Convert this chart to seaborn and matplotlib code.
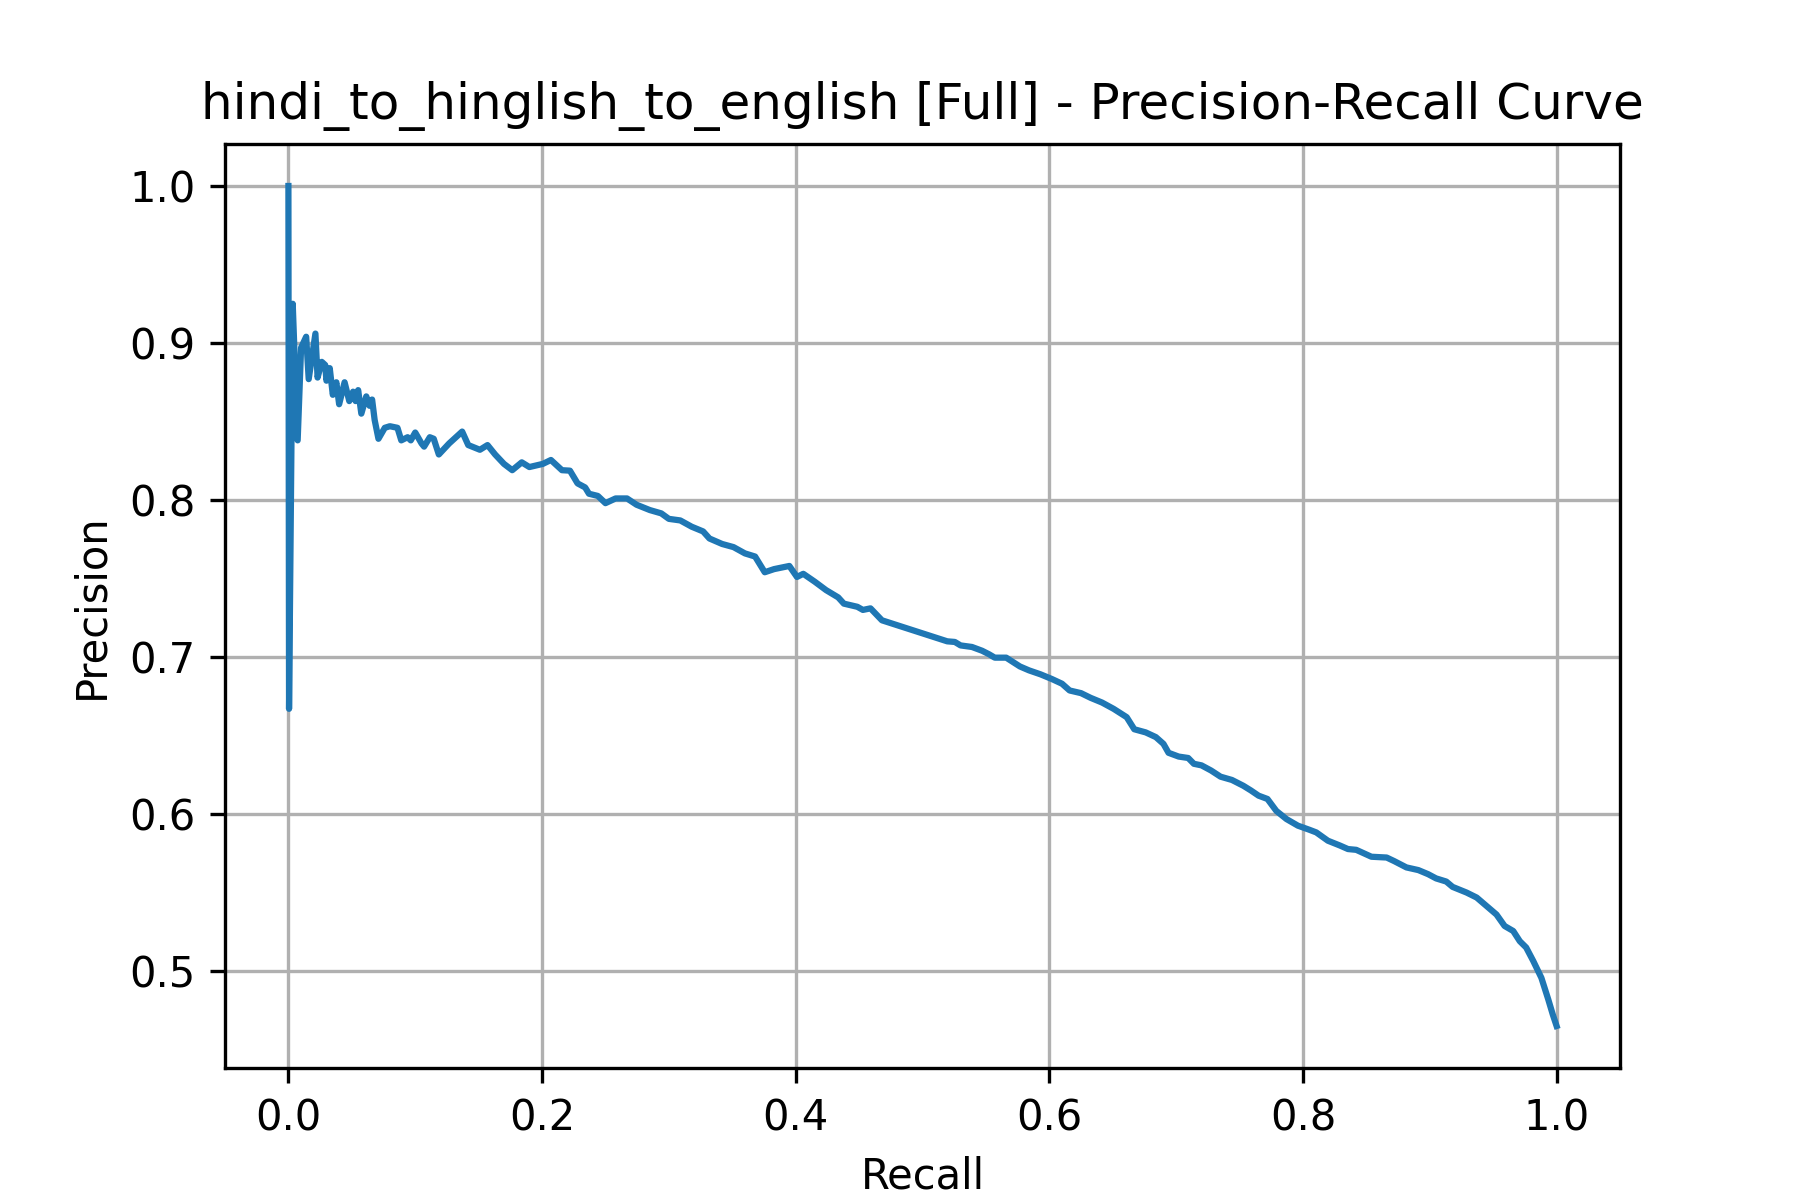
import matplotlib
matplotlib.use("Agg")
import matplotlib.pyplot as plt
import seaborn as sb
import pandas as pd

# values
recall = [
    0.0, 0.0005, 0.0034, 0.0073, 0.010, 0.014, 0.016, 0.0213, 0.023, 0.0263,
    0.029, 0.030, 0.0326, 0.035, 0.0378, 0.040, 0.0443, 0.048, 0.051, 0.053,
    0.055, 0.0575, 0.0614, 0.064, 0.066, 0.068, 0.071, 0.076, 0.080, 0.086,
    0.089, 0.094, 0.0965, 0.100, 0.105, 0.107, 0.1115, 0.1146, 0.1186, 0.1267,
    0.137, 0.1418, 0.151, 0.157, 0.163, 0.170, 0.1765, 0.184, 0.190, 0.2006,
    0.207, 0.2157, 0.222, 0.228, 0.234, 0.237, 0.244, 0.250, 0.258, 0.267,
    0.2745, 0.285, 0.294, 0.300, 0.309, 0.318, 0.327, 0.332, 0.342, 0.351,
    0.360, 0.368, 0.3756, 0.383, 0.395, 0.401, 0.406, 0.415, 0.424, 0.4335,
    0.438, 0.4486, 0.453, 0.459, 0.468, 0.5195, 0.5255, 0.530, 0.539, 0.547,
    0.5526, 0.557, 0.566, 0.5768, 0.584, 0.593, 0.602, 0.610, 0.616, 0.625,
    0.6326, 0.6416, 0.6507, 0.661, 0.667, 0.676, 0.684, 0.690, 0.694, 0.702,
    0.7095, 0.714, 0.720, 0.7276, 0.735, 0.744, 0.753, 0.759, 0.765, 0.772,
    0.779, 0.787, 0.796, 0.805, 0.8105, 0.8197, 0.829, 0.8355, 0.842, 0.854,
    0.866, 0.872, 0.8816, 0.891, 0.8987, 0.905, 0.913, 0.918, 0.929, 0.937,
    0.9447, 0.9526, 0.959, 0.9658, 0.971, 0.976, 0.9816, 0.988, 0.9934, 0.997,
    1.0,
]
precision = [
    1.000, 0.667, 0.925, 0.838, 0.897, 0.904, 0.877, 0.906, 0.878, 0.888,
    0.886, 0.876, 0.884, 0.867, 0.875, 0.861, 0.875, 0.863, 0.869, 0.863,
    0.870, 0.855, 0.866, 0.860, 0.864, 0.851, 0.839, 0.846, 0.847, 0.846,
    0.838, 0.840, 0.838, 0.843, 0.836, 0.834, 0.840, 0.839, 0.829, 0.836,
    0.8436, 0.835, 0.832, 0.835, 0.829, 0.823, 0.819, 0.824, 0.821, 0.823,
    0.8255, 0.819, 0.8187, 0.8106, 0.808, 0.804, 0.8026, 0.798, 0.801, 0.801,
    0.797, 0.7936, 0.7915, 0.788, 0.787, 0.783, 0.780, 0.7755, 0.772, 0.770,
    0.766, 0.764, 0.754, 0.756, 0.758, 0.751, 0.753, 0.748, 0.7426, 0.738,
    0.734, 0.732, 0.730, 0.731, 0.7234, 0.710, 0.7096, 0.7074, 0.7064, 0.704,
    0.7017, 0.6996, 0.6996, 0.694, 0.6915, 0.689, 0.686, 0.683, 0.6787, 0.677,
    0.674, 0.671, 0.667, 0.6617, 0.654, 0.652, 0.649, 0.6447, 0.639, 0.6366,
    0.6357, 0.632, 0.631, 0.6277, 0.6238, 0.6217, 0.618, 0.615, 0.6117, 0.6096,
    0.602, 0.5968, 0.5926, 0.590, 0.5883, 0.583, 0.580, 0.5777, 0.5772, 0.5728,
    0.5723, 0.570, 0.566, 0.5643, 0.5617, 0.559, 0.557, 0.5536, 0.550, 0.5468,
    0.5415, 0.536, 0.5287, 0.5255, 0.519, 0.515, 0.5064, 0.4957, 0.482, 0.4723,
    0.465,
]

pr_data = pd.DataFrame({'Recall': recall, 'Precision': precision})

fig = plt.figure(figsize=(6, 4), dpi=300)
ax = sb.lineplot(x='Recall', y='Precision', data=pr_data, sort=False, estimator=None)
ax.set_title('hindi_to_hinglish_to_english [Full] - Precision-Recall Curve')
ax.grid(True)

plt.savefig('out.png', dpi=300)
